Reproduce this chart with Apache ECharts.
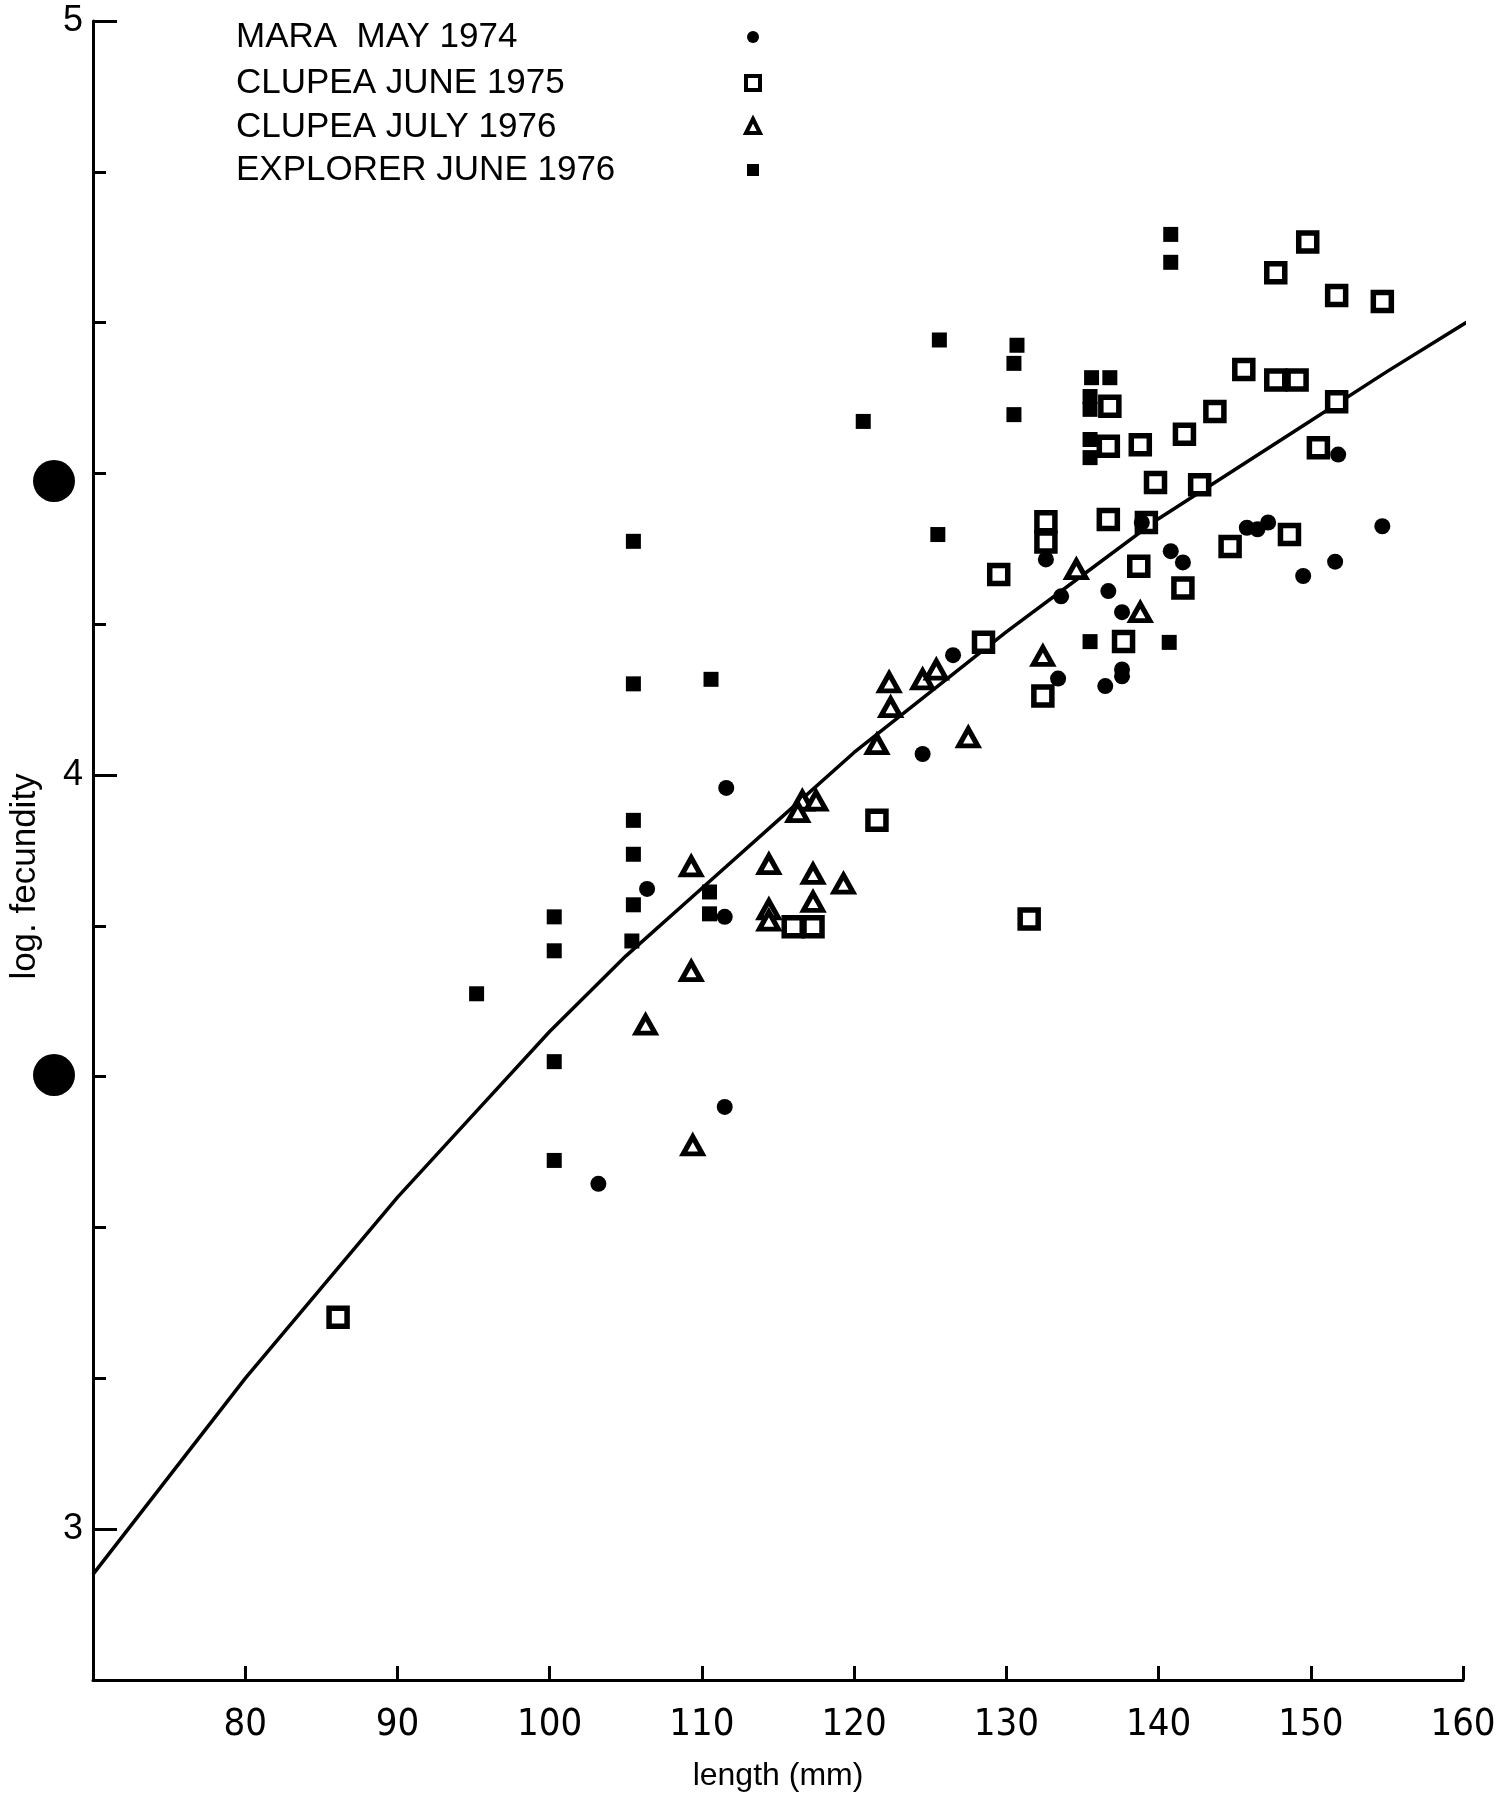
<!DOCTYPE html>
<html>
<head>
<meta charset="utf-8">
<title>log. fecundity against length</title>
<script src="https://cdn.jsdelivr.net/npm/echarts@6/dist/echarts.min.js"></script>
<style>
  html, body { margin: 0; padding: 0; background: #fff; }
  #chart { width: 1502px; height: 1803px; }
</style>
</head>
<body>
<div id="chart"></div>
<script>
// tick labels
var xTicks = [80, 90, 100, 110, 120, 130, 140, 150, 160];
var yTicks = [3, 4, 5];

// series names, as printed in the key
var seriesNames = ['MARA  MAY 1974', 'CLUPEA JUNE 1975', 'CLUPEA JULY 1976', 'EXPLORER JUNE 1976'];

// [length mm, log fecundity]
var mara = [
  [154.7, 4.330], [151.8, 4.425], [145.8, 4.328], [146.5, 4.326], [147.2, 4.335],
  [149.5, 4.264], [151.6, 4.283], [140.8, 4.297], [141.6, 4.282], [132.6, 4.286],
  [136.7, 4.244], [133.6, 4.237], [137.6, 4.216], [138.9, 4.335], [126.5, 4.159],
  [133.4, 4.128], [136.5, 4.118], [137.6, 4.131], [137.6, 4.140], [124.5, 4.028],
  [111.6, 3.983], [106.4, 3.849], [111.5, 3.812], [111.5, 3.560], [103.2, 3.458]
];
var clupea75 = [
  [149.8, 4.707], [147.7, 4.666], [151.7, 4.636], [154.7, 4.628], [145.6, 4.538],
  [147.7, 4.524], [149.1, 4.524], [136.8, 4.489], [143.7, 4.482], [151.7, 4.495],
  [141.7, 4.452], [136.7, 4.436], [138.8, 4.438], [150.5, 4.434], [139.8, 4.388],
  [142.7, 4.385], [132.6, 4.336], [132.6, 4.309], [136.7, 4.339], [139.2, 4.335],
  [148.6, 4.319], [144.7, 4.303], [138.7, 4.277], [141.6, 4.248], [129.5, 4.266],
  [128.5, 4.176], [137.7, 4.177], [132.4, 4.105], [121.5, 3.940], [116.0, 3.799],
  [117.3, 3.799], [131.5, 3.809], [86.1, 3.281]
];
var clupea76 = [
  [134.6, 4.273], [138.8, 4.216], [132.4, 4.158], [122.3, 4.123], [124.5, 4.127],
  [125.4, 4.140], [122.4, 4.090], [127.5, 4.050], [121.5, 4.041], [116.6, 3.966],
  [117.5, 3.966], [116.3, 3.951], [109.3, 3.879], [114.4, 3.882], [117.3, 3.869],
  [119.3, 3.856], [117.3, 3.832], [114.4, 3.822], [114.4, 3.807], [109.3, 3.740],
  [106.3, 3.669], [109.4, 3.509]
];
var explorer = [
  [140.8, 4.717], [140.8, 4.680], [125.6, 4.577], [130.7, 4.570], [130.5, 4.546],
  [130.5, 4.478], [120.6, 4.469], [135.6, 4.527], [136.8, 4.527], [135.5, 4.502],
  [135.5, 4.485], [135.5, 4.445], [135.5, 4.421], [105.5, 4.310], [125.5, 4.319],
  [135.5, 4.177], [140.7, 4.176], [105.5, 4.121], [110.6, 4.127], [105.5, 3.940],
  [105.5, 3.895], [105.5, 3.828], [110.5, 3.845], [110.5, 3.816], [105.4, 3.780],
  [100.3, 3.812], [100.3, 3.767], [95.2, 3.710], [100.3, 3.620], [100.3, 3.489]
];
// fitted curve, points
var fitLine = [
  [70, 2.94], [75, 3.07], [80, 3.20], [85, 3.32], [90, 3.44], [95, 3.55],
  [100, 3.66], [105, 3.76], [110, 3.85], [115, 3.94], [120, 4.03], [125, 4.11],
  [130, 4.19], [135, 4.265], [140, 4.34], [145, 4.405], [150, 4.47], [155, 4.535], [161, 4.61]
];

var narrow = "'Liberation Sans Narrow', 'DejaVu Sans Condensed', sans-serif";
var plain = "'Liberation Sans', Arial, sans-serif";

var chart = echarts.init(document.getElementById('chart'));

// key at top left: text, then its symbol further right
var keyY = [37, 83, 127, 170];
var keyGraphics = [];
seriesNames.forEach(function (name, i) {
  keyGraphics.push({
    type: 'text',
    x: 236, y: keyY[i],
    style: { text: name, font: '35px ' + plain, fill: '#000', verticalAlign: 'middle', textVerticalAlign: 'middle' }
  });
});
keyGraphics.push({ type: 'circle', shape: { cx: 753, cy: keyY[0], r: 6 }, style: { fill: '#000' } });
keyGraphics.push({ type: 'rect', shape: { x: 746, y: keyY[1] - 7, width: 14, height: 14 }, style: { fill: '#fff', stroke: '#000', lineWidth: 4 } });
keyGraphics.push({ type: 'polygon', shape: { points: [[753, keyY[2] - 8], [760, keyY[2] + 6], [746, keyY[2] + 6]] }, style: { fill: '#fff', stroke: '#000', lineWidth: 4 } });
keyGraphics.push({ type: 'rect', shape: { x: 747, y: keyY[3] - 6, width: 12, height: 12 }, style: { fill: '#000' } });
// the two punch holes of the scanned page
keyGraphics.push({ type: 'circle', shape: { cx: 54, cy: 481, r: 21 }, style: { fill: '#000' } });
keyGraphics.push({ type: 'circle', shape: { cx: 54, cy: 1075, r: 21 }, style: { fill: '#000' } });

var option = {
  backgroundColor: '#fff',
  animation: false,
  grid: { left: 90, right: 39, top: 21, bottom: 123 },
  graphic: keyGraphics,
  xAxis: {
    type: 'value',
    min: 70, max: 160, interval: 10,
    name: 'length (mm)',
    nameLocation: 'middle',
    nameGap: 80,
    nameTextStyle: { color: '#000', fontSize: 32, fontFamily: plain },
    axisLine: { show: true, lineStyle: { color: '#000', width: 3 } },
    axisTick: { show: true, inside: true, length: 14, lineStyle: { color: '#000', width: 3 } },
    axisLabel: {
      color: '#000', fontSize: 38, fontFamily: narrow, margin: 26,
      formatter: function (v) { return xTicks.indexOf(v) >= 0 ? String(v) : ''; }
    },
    splitLine: { show: false }
  },
  yAxis: [{
    type: 'value',
    min: 2.8, max: 5,
    position: 'left',
    name: 'log. fecundity',
    nameLocation: 'middle',
    nameGap: 50,
    nameTextStyle: { color: '#000', fontSize: 35, fontFamily: plain, padding: [0, 52, 0, 0] },
    axisLine: { show: true, lineStyle: { color: '#000', width: 3 } },
    axisTick: { show: true, inside: true, length: 24, customValues: yTicks, lineStyle: { color: '#000', width: 3 } },
    axisLabel: { customValues: yTicks, color: '#000', fontSize: 36, fontFamily: plain, margin: 10 },
    splitLine: { show: false }
  }, {
    // minor ticks every 0.2
    type: 'value',
    min: 2.8, max: 5, interval: 0.2,
    position: 'left', offset: 0,
    axisLine: { show: false },
    axisTick: { show: true, inside: true, length: 13, lineStyle: { color: '#000', width: 3 } },
    axisLabel: { show: false },
    splitLine: { show: false }
  }],
  series: [
    {
      name: 'fit', type: 'line', data: fitLine, smooth: false, showSymbol: false,
      clip: false, z: 1, silent: true,
      lineStyle: { color: '#000', width: 3.5, join: 'round' }
    },
    {
      name: seriesNames[0], type: 'scatter', data: mara, symbol: 'circle', symbolSize: 16, z: 3,
      itemStyle: { color: '#000', opacity: 1 }
    },
    {
      name: seriesNames[1], type: 'scatter', data: clupea75, symbol: 'rect', symbolSize: 18, z: 2,
      itemStyle: { color: '#fff', borderColor: '#000', borderWidth: 5.5, opacity: 1 }
    },
    {
      name: seriesNames[2], type: 'scatter', data: clupea76, symbol: 'triangle', symbolSize: [19, 17], z: 2,
      itemStyle: { color: '#fff', borderColor: '#000', borderWidth: 5, opacity: 1 }
    },
    {
      name: seriesNames[3], type: 'scatter', data: explorer, symbol: 'rect', symbolSize: 15, z: 3,
      itemStyle: { color: '#000', opacity: 1 }
    }
  ]
};

chart.setOption(option);
window.onresize = chart.resize;
</script>
</body>
</html>
